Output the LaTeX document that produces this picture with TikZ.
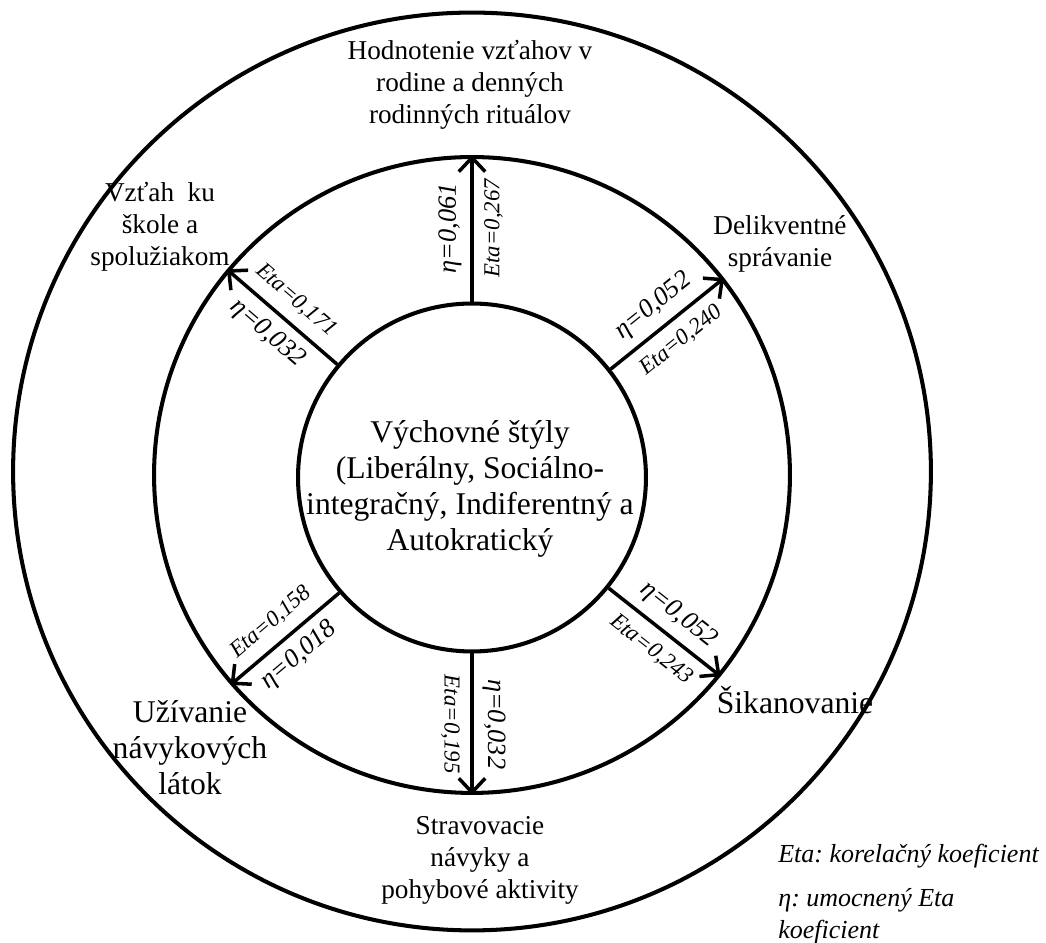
\documentclass[tikz,border=0pt]{standalone}
\usepackage{fontspec}
\setmainfont{Liberation Serif}
\usetikzlibrary{arrows.meta}
\frenchspacing

\tikzset{
	kruh/.style={draw, circle, line width=2.3pt, minimum size=#1, inner sep=0pt},
	vplyv/.style={line width=2pt, -{Straight Barb[length=8pt, width=15pt]}},
	etalab/.style={font=\fontsize{13}{15}\selectfont\itshape, sloped, inner sep=1pt},
	etaquad/.style={font=\fontsize{15}{17}\selectfont\itshape, sloped, inner sep=1pt},
	oblast/.style={align=center, font=\fontsize{15.5}{18.2}\selectfont},
	oblastvelka/.style={align=center, font=\fontsize{18}{20.5}\selectfont},
	legenda/.style={align=left, inner sep=0pt, font=\fontsize{14.8}{18.2}\selectfont\itshape}
}

\begin{document}
\begin{tikzpicture}[x=0.02cm, y=0.02cm]
		%%%%% START %%%%%
		\useasboundingbox (0,0) rectangle (1046,943);
		
		\node[kruh=18.36cm] (vonk) at (472,471.5) {};
		\node[kruh=12.72cm] (stred) at (472,468) {};
		\node[kruh=6.96cm] (styly) at (472,465.5) {};
		
		\node[oblastvelka] (stylytext) at (470,454) {Výchovné štýly\\(Liberálny, Sociálno-\\integračný, Indiferentný a\\Autokratický};
		
		\draw[vplyv] (styly.90) -- (stred.90) node[etaquad, midway, above=4pt] {η=0,061} node[etalab, midway, below=5pt] {Eta=0,267};
		\draw[vplyv] (styly.140) -- (stred.140) node[etalab, midway, above=5pt] {Eta=0,171} node[etaquad, midway, below=4pt] {η=0,032};
		\draw[vplyv] (styly.38) -- (stred.38) node[etaquad, midway, above=4pt] {η=0,052} node[etalab, midway, below=5pt] {Eta=0,240};
		\draw[vplyv] (styly.-39) -- (stred.-39) node[etaquad, midway, above=4pt] {η=0,052} node[etalab, midway, below=5pt] {Eta=0,243};
		\draw[vplyv] (styly.221) -- (stred.221) node[etalab, midway, above=5pt] {Eta=0,158} node[etaquad, midway, below=4pt] {η=0,018};
		\draw[vplyv] (styly.270) -- (stred.270) node[etaquad, midway, above=4pt] {η=0,032} node[etalab, midway, below=5pt] {Eta=0,195};
		
		\node[oblast] (rodina) at (470,858) {Hodnotenie vzťahov v\\rodine a denných\\rodinných rituálov};
		\node[oblast] (skola) at (160,716) {Vzťah\ \ ku\\škole a\\spolužiakom};
		\node[oblast] (delikv) at (780,699) {Delikventné\\správanie};
		\node[oblastvelka] (sikana) at (795,243) {Šikanovanie};
		\node[oblastvelka] (latky) at (190,195) {Užívanie\\návykových\\látok};
		\node[oblast] (strava) at (480,83) {Stravovacie\\návyky a\\pohybové aktivity};
		
		\node[legenda, anchor=base west] (legEta) at (778,80) {Eta: korelačný koeficient};
		\node[legenda, anchor=north west] (legEtaQ) at (778,55) {η: umocnený Eta\\koeficient};
		%%%%% END %%%%%
\end{tikzpicture}
\end{document}
